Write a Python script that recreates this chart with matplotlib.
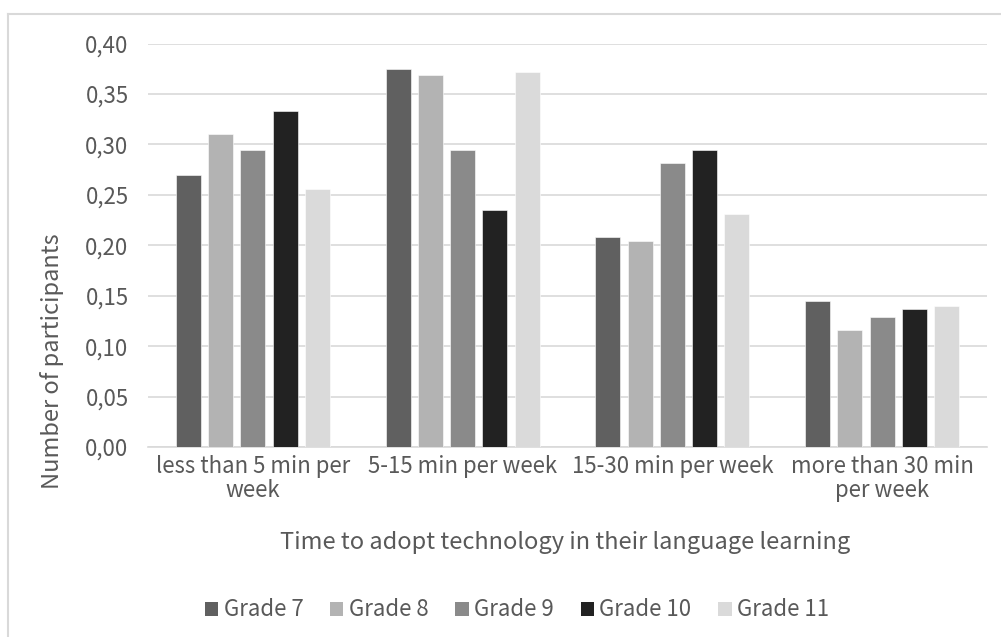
import matplotlib.pyplot as plt
import numpy as np
from matplotlib.ticker import FuncFormatter
from matplotlib.lines import Line2D

plt.rcParams['font.family'] = ['Noto Sans CJK SC', 'DejaVu Sans']
plt.rcParams['font.weight'] = 'light'

categories = ['less than 5 min per\nweek', '5-15 min per week',
              '15-30 min per week', 'more than 30 min\nper week']
grades = ['Grade 7', 'Grade 8', 'Grade 9', 'Grade 10', 'Grade 11']
grade7 = [0.270, 0.375, 0.208, 0.145]
grade8 = [0.310, 0.369, 0.204, 0.116]
grade9 = [0.294, 0.294, 0.282, 0.129]
grade10 = [0.333, 0.235, 0.294, 0.137]
grade11 = [0.256, 0.372, 0.231, 0.140]
series = [grade7, grade8, grade9, grade10, grade11]
colors = ['#606060', '#b3b3b3', '#8a8a8a', '#222222', '#dadada']

text_color = '#595959'
grid_color = '#d9d9d9'

W, H = 1001, 637
fig = plt.figure(figsize=(W / 100, H / 100), dpi=100)
fig.patch.set_facecolor('white')
ax = fig.add_axes([148 / W, 1 - 447 / H, (987 - 148) / W, (447 - 43.5) / H])

x = np.arange(len(categories))
width = 0.119
pitch = 0.154
for i, (vals, c, name) in enumerate(zip(series, colors, grades)):
    ax.bar(x + (i - 2) * pitch, vals, width, color=c, label=name,
           edgecolor='white', linewidth=0.4, zorder=3)

ax.set_xlim(-0.5, 3.5)
ax.set_ylim(0, 0.40)
ax.set_yticks(np.arange(0, 0.401, 0.05))
ax.yaxis.set_major_formatter(FuncFormatter(lambda v, _: f"{v:.2f}".replace('.', ',')))
ax.set_xticks(x)
ax.set_xticklabels(categories, linespacing=1.05)
ax.tick_params(axis='y', length=0, pad=14, labelsize=16, labelcolor=text_color)
ax.tick_params(axis='x', length=0, pad=6, labelsize=16, labelcolor=text_color)
ax.grid(axis='y', color=grid_color, linewidth=1.2, zorder=0)
for s in ['top', 'right', 'left']:
    ax.spines[s].set_visible(False)
ax.spines['bottom'].set_color(grid_color)
ax.spines['bottom'].set_linewidth(1.2)

fig.text(52 / W, 1 - 361 / H, 'Number of participants', rotation=90,
         ha='center', va='center', fontsize=17, color=text_color)
fig.text(565 / W, 1 - 542 / H, 'Time to adopt technology in their language learning',
         ha='center', va='center', fontsize=17, color=text_color)

handles, labels = ax.get_legend_handles_labels()
leg = fig.legend(handles, labels, loc='center', bbox_to_anchor=(517 / W, 1 - 610 / H),
                 ncol=5, frameon=False, fontsize=16, handlelength=0.6, handleheight=0.6,
                 handletextpad=0.25, columnspacing=1.2, labelcolor=text_color)
for h in leg.legend_handles:
    h.set_edgecolor('none')

# chart frame
fig.add_artist(Line2D([8 / W, 8 / W], [0, 1 - 14 / H], color=grid_color, lw=1.5))
fig.add_artist(Line2D([8 / W, 1], [1 - 14 / H, 1 - 14 / H], color=grid_color, lw=1.5))

plt.savefig('out.png', dpi=100)
